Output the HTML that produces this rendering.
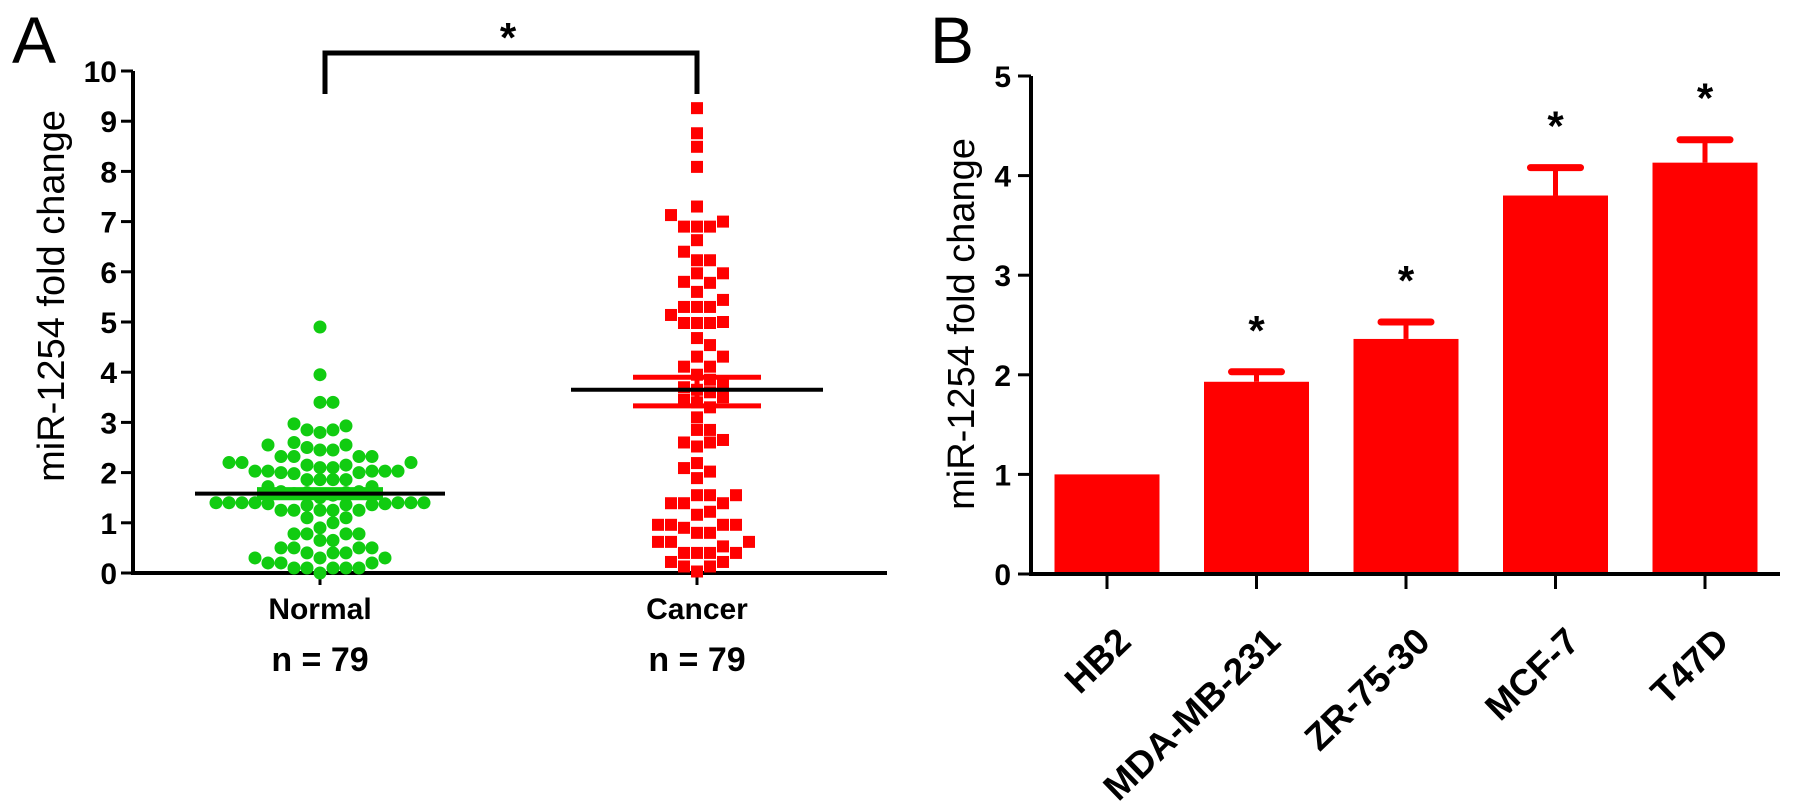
<!DOCTYPE html>
<html><head><meta charset="utf-8">
<style>
html,body{margin:0;padding:0;background:#fff;}
svg{display:block;font-family:"Liberation Sans",Arial,sans-serif;}
</style></head>
<body>
<svg id="chart" width="1795" height="802" viewBox="0 0 1795 802">
  <text x="12" y="63" font-size="66">A</text>
  <text x="930" y="63" font-size="66">B</text>
  <text transform="translate(64,296) rotate(-90)" text-anchor="middle" font-size="38">miR-1254 fold change</text>
  <text transform="translate(974,324) rotate(-90)" text-anchor="middle" font-size="38">miR-1254 fold change</text>
  <g id="pa"></g>
  <g id="pb"></g>
</svg>
<script>
const NS="http://www.w3.org/2000/svg";
const groupsA=["Normal","Cancer"];
const nLabels=["n = 79","n = 79"];
const ticksA=[0,1,2,3,4,5,6,7,8,9,10];
const normalVals=[4.9,3.95,3.4,3.4,2.97,2.93,2.85,2.8,2.85,2.55,2.5,2.45,2.45,2.55,2.6,2.32,2.32,2.32,2.32,2.2,2.15,2.1,2.2,2.15,2.1,2.2,2.03,2.03,2.0,2.03,2.0,2.03,1.98,2.03,1.86,1.86,1.86,1.86,1.72,1.72,1.62,1.6,1.58,1.6,1.55,1.62,1.5,1.4,1.4,1.38,1.4,1.36,1.4,1.38,1.4,1.35,1.4,1.36,1.4,1.25,1.25,1.25,1.25,1.25,1.1,1.1,1.0,0.9,0.78,0.78,0.78,0.78,0.65,0.65,0.5,0.5,0.5,0.5,0.4,0.4,0.4,0.3,0.3,0.3,0.2,0.2,0.2,0.1,0.1,0.1,0.1,0.1,0.0];
const cancerVals=[9.26,8.76,8.49,8.09,7.3,7.13,7.0,6.9,6.9,6.9,6.63,6.4,6.23,6.23,5.97,5.97,5.8,5.78,5.6,5.44,5.3,5.3,5.3,5.14,5.0,4.98,4.98,4.98,4.68,4.54,4.31,4.31,4.11,4.11,3.95,3.85,3.8,3.7,3.65,3.6,3.5,3.45,3.4,3.3,3.1,2.85,2.85,2.65,2.6,2.6,2.52,2.19,2.09,2.02,1.89,1.55,1.55,1.55,1.39,1.39,1.39,1.22,1.16,0.96,0.96,0.96,0.96,0.9,0.8,0.8,0.62,0.62,0.62,0.53,0.4,0.4,0.4,0.4,0.22,0.22,0.13,0.13,0.03];
const means=[1.58,3.65];
const semLo=[1.5,3.33];
const semHi=[1.66,3.9];

const cellLines=["HB2","MDA-MB-231","ZR-75-30","MCF-7","T47D"];
const barVals=[1.0,1.93,2.36,3.8,4.13];
const errVals=[0,0.1,0.17,0.28,0.23];
const sigFlags=[false,true,true,true,true];
const ticksB=[0,1,2,3,4,5];

function mk(tag,attrs,parent){const e=document.createElementNS(NS,tag);for(const k in attrs)e.setAttribute(k,attrs[k]);parent.appendChild(e);return e;}

// Panel A
const pa=document.getElementById('pa');
const yA=v=>573-v*50.2;
const xA=i=>[320,697][i];
let e;
e=mk('line',{x1:133,y1:yA(10),x2:133,y2:yA(0)+2,stroke:'#000','stroke-width':4},pa);


e=mk('line',{x1:131,y1:yA(0),x2:887,y2:yA(0),stroke:'#000','stroke-width':4},pa);


ticksA.forEach(t=>{
  e=mk('line',{x1:121,y1:yA(t),x2:133,y2:yA(t),stroke:'#000','stroke-width':3},pa);
  
  
  e=mk('text',{x:117,y:yA(t)+11,'text-anchor':'end','font-size':30,'font-weight':'bold'},pa);
  e.textContent=t;
  
  
});
groupsA.forEach((g,i)=>{
  e=mk('line',{x1:xA(i),y1:yA(0),x2:xA(i),y2:yA(0)+12,stroke:'#000','stroke-width':3},pa);
  
  
  e=mk('text',{x:xA(i),y:619,'text-anchor':'middle','font-size':30,'font-weight':'bold'},pa);
  e.textContent=g;
  
  
  e=mk('text',{x:xA(i),y:671,'text-anchor':'middle','font-size':34,'font-weight':'bold'},pa);
  e.textContent=nLabels[i];
  
  
});
function swarm(vals,cx){
  const sorted=vals.map(v=>v).sort((a,b)=>a-b);const placed=[];
  sorted.forEach(v=>{const y=yA(v);let k=0;
    while(true){const offs=k===0?[0]:[k*13,-k*13];let ok=null;
      for(const o of offs){if(placed.every(p=>Math.abs(p.y-y)>=12||Math.abs(p.x-(cx+o))>=12)){ok=o;break;}}
      if(ok!==null){placed.push({x:cx+ok,y:y});break;}k++;}
  });return placed;
}
swarm(normalVals,xA(0)).forEach(p=>{
  e=mk('circle',{cx:p.x,cy:p.y,r:6.5,fill:'#11cc11'},pa);
  
  
});
swarm(cancerVals,xA(1)).forEach(p=>{
  e=mk('rect',{x:p.x-6,y:p.y-6,width:12,height:12,fill:'#ff0000'},pa);
  
  
});
const semCol=['#11cc11','#ff0000'];const semHalf=[63,64];const meanHalf=[125,126];
groupsA.forEach((g,i)=>{
  [semLo[i],semHi[i]].forEach(v=>{
    e=mk('line',{x1:xA(i)-semHalf[i],y1:yA(v),x2:xA(i)+semHalf[i],y2:yA(v),stroke:semCol[i],'stroke-width':5},pa);
    
    
  });
  e=mk('line',{x1:xA(i),y1:yA(semLo[i]),x2:xA(i),y2:yA(semHi[i]),stroke:semCol[i],'stroke-width':5},pa);
  
  
  e=mk('line',{x1:xA(i)-meanHalf[i],y1:yA(means[i]),x2:xA(i)+meanHalf[i],y2:yA(means[i]),stroke:'#000','stroke-width':4},pa);
  
  
});
e=mk('path',{d:`M${xA(0)+5} 94 V53 H${xA(1)} V94`,fill:'none',stroke:'#000','stroke-width':5},pa);


e=mk('text',{x:508,y:52,'text-anchor':'middle','font-size':42,'font-weight':'bold'},pa);
e.textContent='*';



// Panel B
const pb=document.getElementById('pb');
const yB=v=>574-v*99.6;
const xB=i=>1107+i*149.5;
const bw=105;
e=mk('line',{x1:1031,y1:yB(5),x2:1031,y2:yB(0)+2,stroke:'#000','stroke-width':4},pb);


ticksB.forEach(t=>{
  e=mk('line',{x1:1018,y1:yB(t),x2:1031,y2:yB(t),stroke:'#000','stroke-width':3},pb);
  
  
  e=mk('text',{x:1011,y:yB(t)+11,'text-anchor':'end','font-size':30,'font-weight':'bold'},pb);
  e.textContent=t;
  
  
});
cellLines.forEach((c,i)=>{
  const x=xB(i);
  if(errVals[i]>0){
    e=mk('line',{x1:x,y1:yB(barVals[i]),x2:x,y2:yB(barVals[i]+errVals[i]),stroke:'#ff0000','stroke-width':5},pb);
    
    
    e=mk('line',{x1:x-25,y1:yB(barVals[i]+errVals[i]),x2:x+25,y2:yB(barVals[i]+errVals[i]),stroke:'#ff0000','stroke-width':7,'stroke-linecap':'round'},pb);
    
    
  }
  e=mk('rect',{x:x-bw/2,y:yB(barVals[i]),width:bw,height:yB(0)-yB(barVals[i]),fill:'#ff0000'},pb);
  
  
  if(sigFlags[i]){
    e=mk('text',{x:x,y:yB(barVals[i]+errVals[i])-54+27,'text-anchor':'middle','font-size':42,'font-weight':'bold'},pb);
    e.textContent='*';
    
    
  }
  e=mk('line',{x1:x,y1:yB(0),x2:x,y2:yB(0)+15,stroke:'#000','stroke-width':3},pb);
  
  
  e=mk('text',{transform:`translate(${x+26},${yB(0)+70}) rotate(-44)`,'text-anchor':'end','font-size':37,'font-weight':'bold'},pb);
  e.textContent=c;
  
  
});
e=mk('line',{x1:1029,y1:yB(0),x2:1780,y2:yB(0),stroke:'#000','stroke-width':4},pb);


</script>
</body></html>
